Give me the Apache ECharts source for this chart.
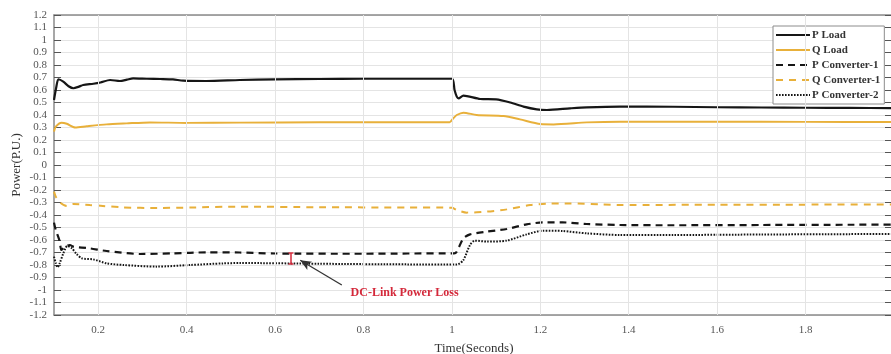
<!DOCTYPE html>
<html>
<head>
<meta charset="utf-8">
<script src="https://cdn.jsdelivr.net/npm/echarts@6/dist/echarts.min.js"></script>
<style>
  html, body { margin: 0; padding: 0; background: #fff; }
  #chart { width: 891px; height: 354px; }
</style>
</head>
<body>
<div id="chart"></div>
<script>
// Time (s) / power (p.u.) samples for each waveform
const pLoad = [
  [0.100, 0.52], [0.105, 0.62], [0.110, 0.686], [0.121, 0.667], [0.133, 0.63], [0.144, 0.614],
  [0.155, 0.625], [0.166, 0.64], [0.189, 0.65], [0.205, 0.66], [0.227, 0.68], [0.249, 0.672],
  [0.265, 0.683], [0.279, 0.693], [0.31, 0.69], [0.34, 0.688], [0.369, 0.685], [0.392, 0.675],
  [0.445, 0.672], [0.52, 0.68], [0.6, 0.685], [0.7, 0.688], [0.8, 0.69], [0.9, 0.69], [1.0, 0.69],
  [1.006, 0.6], [1.011, 0.547], [1.015, 0.533], [1.026, 0.555], [1.064, 0.528], [1.10, 0.525],
  [1.132, 0.50], [1.162, 0.467], [1.192, 0.445], [1.215, 0.44], [1.267, 0.453], [1.305, 0.461],
  [1.38, 0.467], [1.5, 0.466], [1.6, 0.462], [1.7, 0.46], [1.8, 0.458], [1.9, 0.457], [2.0, 0.455]
];
const qLoad = [
  [0.100, 0.267], [0.104, 0.307], [0.117, 0.339], [0.129, 0.33], [0.148, 0.30], [0.174, 0.31],
  [0.219, 0.325], [0.264, 0.333], [0.317, 0.341], [0.4, 0.337], [0.52, 0.339], [0.7, 0.342],
  [0.85, 0.343], [0.995, 0.343], [1.003, 0.373], [1.011, 0.40], [1.026, 0.419], [1.056, 0.40],
  [1.117, 0.392], [1.154, 0.365], [1.2, 0.328], [1.23, 0.325], [1.305, 0.341], [1.38, 0.347],
  [1.6, 0.347], [1.8, 0.345], [2.0, 0.343]
];
const pConv1 = [
  [0.100, -0.461], [0.104, -0.52], [0.112, -0.60], [0.117, -0.68], [0.125, -0.653], [0.136, -0.64],
  [0.144, -0.653], [0.181, -0.667], [0.219, -0.688], [0.295, -0.712], [0.37, -0.707], [0.445, -0.699],
  [0.52, -0.70], [0.6, -0.708], [0.8, -0.71], [0.9, -0.708], [1.005, -0.707], [1.011, -0.693],
  [1.026, -0.587], [1.041, -0.555], [1.079, -0.533], [1.124, -0.512], [1.169, -0.475], [1.207, -0.459],
  [1.25, -0.459], [1.305, -0.472], [1.38, -0.48], [1.5, -0.482], [1.7, -0.48], [1.9, -0.478], [2.0, -0.477]
];
const qConv1 = [
  [0.100, -0.213], [0.104, -0.253], [0.114, -0.30], [0.129, -0.328], [0.144, -0.312], [0.181, -0.32],
  [0.257, -0.339], [0.333, -0.344], [0.41, -0.34], [0.52, -0.333], [0.7, -0.338], [0.9, -0.34],
  [1.0, -0.342], [1.011, -0.36], [1.034, -0.381], [1.079, -0.373], [1.124, -0.355], [1.177, -0.32],
  [1.215, -0.309], [1.267, -0.307], [1.343, -0.315], [1.38, -0.32], [1.6, -0.318], [1.8, -0.317], [2.0, -0.316]
];
const pConv2 = [
  [0.100, -0.733], [0.104, -0.785], [0.108, -0.819], [0.113, -0.785], [0.121, -0.707], [0.13, -0.648],
  [0.14, -0.665], [0.151, -0.712], [0.163, -0.747], [0.189, -0.755], [0.219, -0.787], [0.257, -0.80],
  [0.332, -0.813], [0.408, -0.80], [0.483, -0.787], [0.52, -0.784], [0.7, -0.79], [0.9, -0.795],
  [1.012, -0.795], [1.026, -0.76], [1.041, -0.64], [1.052, -0.605], [1.079, -0.613], [1.124, -0.605],
  [1.169, -0.555], [1.207, -0.525], [1.25, -0.528], [1.305, -0.547], [1.38, -0.56], [1.5, -0.56],
  [1.7, -0.556], [1.9, -0.553], [2.0, -0.552]
];

const seriesNames = ['P Load', 'Q Load', 'P Converter-1', 'Q Converter-1', 'P Converter-2'];
const xTicks = [0.2, 0.4, 0.6, 0.8, 1.0, 1.2, 1.4, 1.6, 1.8];
const yTicks = [-1.2, -1.1, -1, -0.9, -0.8, -0.7, -0.6, -0.5, -0.4, -0.3, -0.2, -0.1, 0,
                0.1, 0.2, 0.3, 0.4, 0.5, 0.6, 0.7, 0.8, 0.9, 1, 1.1, 1.2];

// Annotation: gap between the two converter powers and its callout
const lossGap = [[0.636, -0.704], [0.636, -0.792]];
const lossArrow = [[0.751, -0.96], [0.657, -0.762]];
const lossLabel = { text: 'DC-Link Power Loss', at: [0.893, -1.025] };

const FONT = '"Liberation Serif", "DejaVu Serif", serif';
const BLACK = '#161616';
const GOLD = '#E8B03A';
const GRID = '#e4e4e4';
const AXIS = '#8a8a8a';
const RED = '#d4283a';

const chart = echarts.init(document.getElementById('chart'), null, { renderer: 'canvas' });

const fmt = v => String(Math.round(v * 10) / 10);

function lineSeries(name, data, color, width, type) {
  return {
    name, type: 'line', data, xAxisIndex: 0, yAxisIndex: 0,
    symbol: 'none', showSymbol: false, smooth: 0.25, z: 3,
    lineStyle: { color, width, type, cap: 'butt' },
    itemStyle: { color }
  };
}

const option = {
  animation: false,
  backgroundColor: '#fff',
  grid: { left: 54, top: 15, width: 840, height: 300, containLabel: false, outerBoundsMode: 'none' },
  legend: {
    data: seriesNames,
    orient: 'vertical',
    left: 773, top: 26,
    padding: [3, 4, 3, 2],
    itemGap: 3,
    itemWidth: 34, itemHeight: 12,
    // line-only keys: hide the marker the line series puts in its legend icon
    itemStyle: { color: 'rgba(0,0,0,0)', borderWidth: 0, opacity: 0 },
    backgroundColor: '#fff',
    borderColor: '#8c8c8c', borderWidth: 1,
    textStyle: { fontFamily: FONT, fontSize: 11, fontWeight: 'bold', color: '#333', lineHeight: 12, padding: [0, 0, 0, -3] }
  },
  xAxis: [
    {
      type: 'value', min: 0.1, max: 2.0, position: 'bottom',
      name: 'Time(Seconds)', nameLocation: 'middle', nameGap: 27,
      nameTextStyle: { fontFamily: FONT, fontSize: 13, color: '#333' },
      axisLine: { show: true, onZero: false, lineStyle: { color: AXIS, width: 1.5 } },
      axisTick: { show: true, inside: true, length: 6, customValues: xTicks, lineStyle: { color: '#555' } },
      axisLabel: { customValues: xTicks, formatter: fmt, margin: 10, fontFamily: FONT, fontSize: 11, color: '#555' },
      splitLine: { show: false }
    },
    {
      type: 'value', min: 0.1, max: 2.0, position: 'top',
      axisLine: { show: true, onZero: false, lineStyle: { color: AXIS, width: 1.5 } },
      axisTick: { show: true, inside: true, length: 6, customValues: xTicks, lineStyle: { color: '#555' } },
      axisLabel: { show: false },
      splitLine: { show: false }
    }
  ],
  yAxis: [
    {
      type: 'value', min: -1.2, max: 1.2, interval: 0.1,
      name: 'Power(P.U.)', nameLocation: 'middle', nameGap: 31, nameRotate: 90,
      nameMoveOverlap: false,
      nameTextStyle: { fontFamily: FONT, fontSize: 13, color: '#333' },
      axisLine: { show: true, onZero: false, lineStyle: { color: AXIS, width: 1.5 } },
      axisTick: { show: true, inside: true, length: 7, customValues: yTicks, lineStyle: { color: '#555' } },
      axisLabel: { customValues: yTicks, formatter: fmt, margin: 7, fontFamily: FONT, fontSize: 11, color: '#555' },
      splitLine: { show: true, lineStyle: { color: GRID, width: 1 } }
    },
    {
      type: 'value', min: -1.2, max: 1.2, interval: 0.1, position: 'right',
      axisLine: { show: true, onZero: false, lineStyle: { color: AXIS, width: 1.5 } },
      axisTick: { show: true, inside: true, length: 9, customValues: yTicks, lineStyle: { color: '#555' } },
      axisLabel: { show: false },
      splitLine: { show: false }
    }
  ],
  series: [
    // vertical grid lines at the time ticks
    {
      name: 'timeGrid', type: 'line', data: [], z: 1, silent: true,
      markLine: {
        silent: true, symbol: ['none', 'none'], label: { show: false },
        lineStyle: { color: GRID, width: 1, type: 'solid' },
        data: xTicks.map(t => ({ xAxis: t }))
      }
    },
    lineSeries(seriesNames[0], pLoad, BLACK, 2.2, 'solid'),
    lineSeries(seriesNames[1], qLoad, GOLD, 2, 'solid'),
    lineSeries(seriesNames[2], pConv1, BLACK, 2.2, [7, 5]),
    lineSeries(seriesNames[3], qConv1, GOLD, 2, [7, 6]),
    lineSeries(seriesNames[4], pConv2, BLACK, 2, [1.6, 1.4]),
    // DC-link loss callout
    {
      name: 'lossNote', type: 'line', data: [], z: 6, silent: true,
      markLine: {
        silent: true, label: { show: false },
        data: [
          [
            { coord: lossGap[0], symbol: 'rect', symbolSize: [5, 1.4],
              itemStyle: { color: RED }, lineStyle: { color: RED, width: 1.5, type: 'solid' } },
            { coord: lossGap[1], symbol: 'rect', symbolSize: [5, 1.4] }
          ],
          [
            { coord: lossArrow[0], symbol: 'none', lineStyle: { color: '#333', width: 1.3, type: 'solid' } },
            { coord: lossArrow[1], symbol: 'arrow', symbolSize: [7, 11] }
          ]
        ]
      },
      markPoint: {
        silent: true, symbol: 'circle', symbolSize: 0,
        data: [{
          coord: lossLabel.at,
          label: {
            show: true, formatter: lossLabel.text, position: 'inside',
            fontFamily: FONT, fontSize: 12, fontWeight: 'bold', color: RED
          }
        }]
      }
    }
  ]
};

chart.setOption(option);
</script>
</body>
</html>
